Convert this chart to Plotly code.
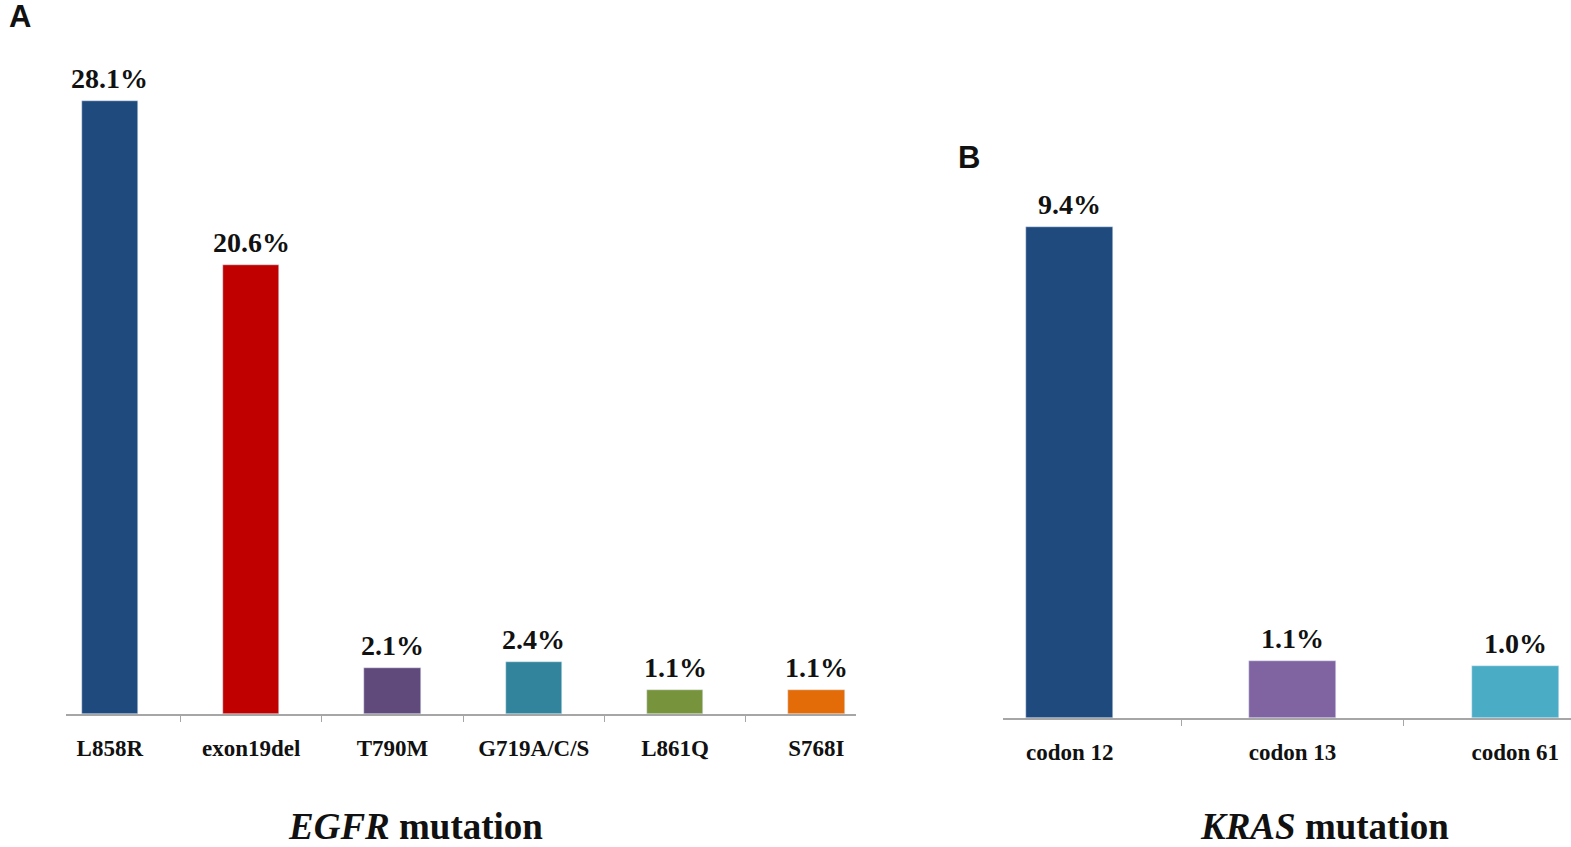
import plotly.graph_objects as go

egfr_cats = ["L858R", "exon19del", "T790M", "G719A/C/S", "L861Q", "S768I"]
egfr_vals = [28.1, 20.6, 2.1, 2.4, 1.1, 1.1]
egfr_colors = ["#1f4a7e", "#c00000", "#5f4a7b", "#31849b", "#77933c", "#e36c09"]

kras_cats = ["codon 12", "codon 13", "codon 61"]
kras_vals = [9.4, 1.1, 1.0]
kras_colors = ["#1f4a7e", "#8064a2", "#4bacc6"]

W, H = 1571, 847
def px(x):
    return x / W
def py(y):
    return (H - y) / H

serif = "Liberation Serif, Times New Roman, serif"
sans = "Liberation Sans, Arial, sans-serif"

fig = go.Figure()
fig.add_trace(go.Bar(
    x=egfr_cats, y=egfr_vals, marker_color=egfr_colors, width=0.40,
    xaxis="x", yaxis="y", showlegend=False, hoverinfo="x+y",
))
fig.add_trace(go.Bar(
    x=kras_cats, y=kras_vals, marker_color=kras_colors, width=0.39,
    xaxis="x2", yaxis="y2", showlegend=False, hoverinfo="x+y",
))

axis_common = dict(
    showline=True, linecolor="#a6a6a6", linewidth=2,
    ticks="outside", ticklen=6, tickcolor="#a6a6a6", tickwidth=1,
    tickson="boundaries", showgrid=False, zeroline=False,
    ticklabelstandoff=12,
    tickfont=dict(family=serif, size=23, color="#111"),
)

fig.update_layout(
    width=W, height=H,
    margin=dict(l=0, r=0, t=0, b=0),
    paper_bgcolor="white", plot_bgcolor="white",
    bargap=0,
    xaxis=dict(domain=[px(66), px(856)], range=[-0.31, 5.28], anchor="y",
               tickvals=egfr_cats, ticktext=[f"<b>{c}</b>" for c in egfr_cats], **axis_common),
    yaxis=dict(domain=[py(714), py(60)], range=[0, 30], visible=False),
    xaxis2=dict(domain=[px(1003), 1.0], range=[-0.30, 2.25], anchor="y2",
                tickvals=kras_cats, ticktext=[f"<b>{c}</b>" for c in kras_cats], **axis_common),
    yaxis2=dict(domain=[py(718), py(196)], range=[0, 10], visible=False),
    font=dict(family=serif),
)

for cats, vals, xr, yr in [(egfr_cats, egfr_vals, "x", "y"), (kras_cats, kras_vals, "x2", "y2")]:
    for c, v in zip(cats, vals):
        fig.add_annotation(text=f"<b>{v:.1f}%</b>", x=c, y=v, xref=xr, yref=yr,
                           xanchor="center", yanchor="bottom", yshift=5, showarrow=False,
                           font=dict(family=serif, size=28, color="#111"))

annos = [
    dict(text="<b><i>EGFR</i> mutation</b>", x=px(415), y=py(826), size=37, fam=serif),
    dict(text="<b><i>KRAS</i> mutation</b>", x=px(1324), y=py(826), size=37, fam=serif),
    dict(text="<b>A</b>", x=px(20), y=py(17), size=31, fam=sans),
    dict(text="<b>B</b>", x=px(969), y=py(157), size=31, fam=sans),
]
for a in annos:
    fig.add_annotation(text=a["text"], x=a["x"], y=a["y"], xref="paper", yref="paper",
                       xanchor="center", yanchor="middle", showarrow=False,
                       font=dict(family=a["fam"], size=a["size"], color="#111"))

fig.write_html(
    "out.html",
    config={"displayModeBar": False},
    post_script="document.body.style.margin='0';document.body.style.overflow='hidden';",
)
